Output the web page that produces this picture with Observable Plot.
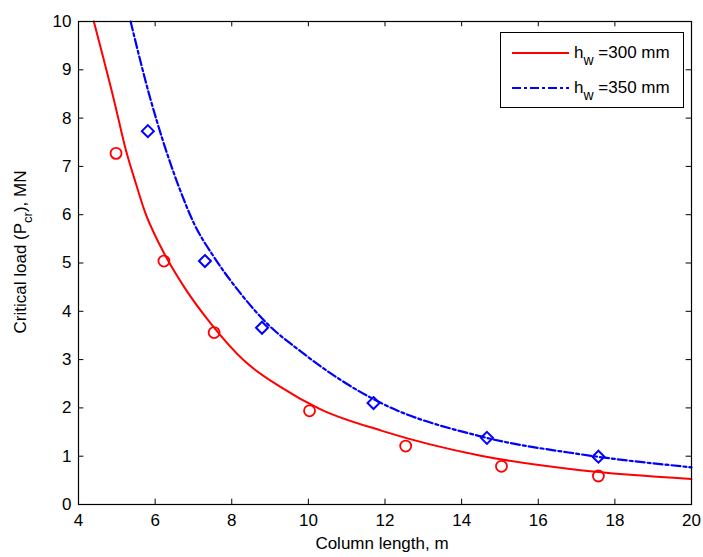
<!DOCTYPE html>
<html><head><meta charset="utf-8">
<script src="https://cdn.jsdelivr.net/npm/d3@7"></script>
<script src="https://cdn.jsdelivr.net/npm/@observablehq/plot@0.6"></script>
<style>
body{margin:0;background:#fff;font-family:"Liberation Sans",Arial,sans-serif;}
#wrap{position:relative;width:703px;height:557px;overflow:hidden;}
#legend{position:absolute;left:500px;top:32px;width:184px;height:76px;border:1px solid #000;background:#fff;box-sizing:border-box;font-size:17px;color:#000;}
.row{position:absolute;left:0;height:20px;width:180px;}
.row svg{position:absolute;left:11px;top:0;}
.row .t{position:absolute;left:73px;top:0;line-height:20px;white-space:nowrap;}
.sub{position:relative;top:7px;font-size:14px;}
#xlab{position:absolute;left:0;width:764px;text-align:center;top:534px;font-size:17px;}
#ylab{position:absolute;left:21px;top:252px;transform:translate(-50%,-50%) rotate(-90deg);white-space:nowrap;font-size:17px;}
#ylab .s{position:relative;top:6px;font-size:13px;}
</style>
</head><body>
<div id="wrap"></div>
<script>
const xTicks = [4, 6, 8, 10, 12, 14, 16, 18, 20];
const yTicks = [0, 1, 2, 3, 4, 5, 6, 7, 8, 9, 10];

// Theory curves (column length m, critical load MN)
const redL = [4.40, 4.93, 5.24, 5.5, 5.72, 6.15, 6.76, 7.46, 8.32, 9.28, 10.32, 11.9, 14.5, 17.1, 20];
const redP = [10.0, 8.36, 7.33, 6.64, 6.09, 5.33, 4.5, 3.74, 2.98, 2.43, 1.97, 1.53, 1.01, 0.71, 0.53];
const blueL = [5.36, 5.89, 6.2, 6.59, 7.02, 7.54, 8.24, 8.93, 9.8, 10.84, 11.9, 14.5, 17.1, 20];
const blueP = [10.0, 8.36, 7.54, 6.64, 5.81, 5.12, 4.36, 3.74, 3.17, 2.58, 2.1, 1.41, 1.04, 0.77];

// Test / FE points
const redPtL = [4.98, 6.23, 7.54, 10.03, 12.54, 15.04, 17.57];
const redPtP = [7.27, 5.04, 3.56, 1.94, 1.21, 0.79, 0.59];
const bluePtL = [5.81, 7.3, 8.79, 11.7, 14.66, 17.57];
const bluePtP = [7.73, 5.04, 3.66, 2.1, 1.38, 0.99];

const zip = (a, b) => a.map((v, i) => ({x: v, y: b[i]}));
const redLine = zip(redL, redP), blueLine = zip(blueL, blueP);
const redPts = zip(redPtL, redPtP), bluePts = zip(bluePtL, bluePtP);

const chart = Plot.plot({
  width: 703, height: 557,
  marginLeft: 78, marginRight: 12, marginTop: 21, marginBottom: 53,
  style: {fontFamily: "Liberation Sans, Arial, sans-serif", fontSize: "17px", color: "#000", background: "#fff"},
  x: {domain: [4, 20]},
  y: {domain: [0, 10]},
  marks: [
    Plot.line(redLine, {x: "x", y: "y", stroke: "#ff0000", strokeWidth: 2, curve: "monotone-x"}),
    Plot.line(blueLine, {x: "x", y: "y", stroke: "#0000ff", strokeWidth: 2.2, strokeDasharray: "9,3,3,3", curve: "monotone-x"}),
    Plot.dot(redPts, {x: "x", y: "y", symbol: "circle", r: 5.5, stroke: "#ff0000", strokeWidth: 1.8, fill: "none"}),
    Plot.dot(bluePts, {x: "x", y: "y", symbol: "diamond2", r: 5.4, stroke: "#0000ff", strokeWidth: 2, fill: "none"}),
    Plot.ruleX(xTicks, {x: d => d, y1: 0, y2: 0.11, stroke: "#000"}),
    Plot.ruleX(xTicks, {x: d => d, y1: 10, y2: 9.89, stroke: "#000"}),
    Plot.ruleY(yTicks, {y: d => d, x1: 4, x2: 4.14, stroke: "#000"}),
    Plot.ruleY(yTicks, {y: d => d, x1: 20, x2: 19.86, stroke: "#000"}),
    Plot.frame({stroke: "#000", strokeWidth: 1.2}),
    Plot.axisX(xTicks, {tickSize: 0, tickPadding: 9, label: null, fontSize: 17}),
    Plot.axisY(yTicks, {tickSize: 0, tickPadding: 7, label: null, fontSize: 17})
  ]
});

const wrap = document.getElementById("wrap");
wrap.appendChild(chart);

const legend = document.createElement("div");
legend.id = "legend";
legend.innerHTML = `
  <div class="row" style="top:10px">
    <svg width="58" height="20"><line x1="0" y1="10" x2="57" y2="10" stroke="#ff0000" stroke-width="2"/></svg>
    <div class="t">h<span class="sub">w</span> =300 mm</div>
  </div>
  <div class="row" style="top:45px">
    <svg width="58" height="20"><line x1="0" y1="10" x2="57" y2="10" stroke="#0000ff" stroke-width="2.2" stroke-dasharray="9,3,3,3"/></svg>
    <div class="t">h<span class="sub">w</span> =350 mm</div>
  </div>`;
wrap.appendChild(legend);

const xlab = document.createElement("div");
xlab.id = "xlab";
xlab.textContent = "Column length, m";
wrap.appendChild(xlab);

const ylab = document.createElement("div");
ylab.id = "ylab";
ylab.innerHTML = `Critical load (P<span class="s">cr</span>), MN`;
wrap.appendChild(ylab);
</script>
</body></html>
